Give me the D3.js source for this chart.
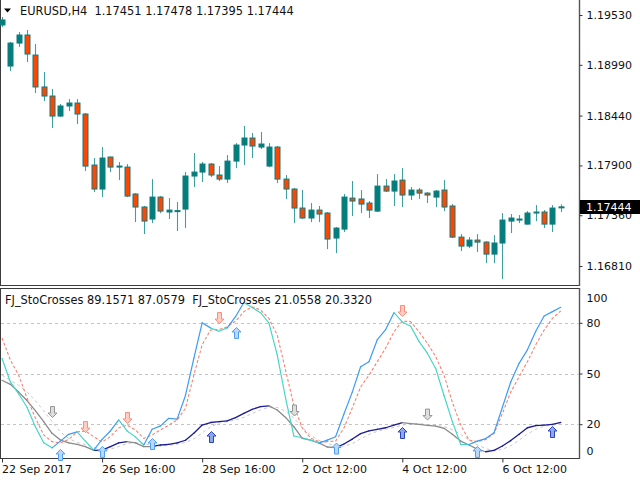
<!DOCTYPE html>
<html><head><meta charset="utf-8">
<script src="https://cdn.jsdelivr.net/npm/d3@7"></script>
<style>body{margin:0;background:#fff}svg{display:block}text{font-family:"DejaVu Sans",sans-serif}</style>
</head><body>
<script>
// ---------- DATA ----------
const symbolTitle = "EURUSD,H4";
const ohlcTitle = ["1.17451","1.17478","1.17395","1.17444"];
const indTitle = "FJ_StoCrosses 89.1571 87.0579  FJ_StoCrosses 21.0558 20.3320";
const lastPrice = 1.17444;

const open = [1.19422,1.18977,1.19226,1.19313,1.19096,1.18750,1.18652,1.18435,1.18544,1.18576,
1.18457,1.17904,1.17644,1.17991,1.17882,1.17882,1.17590,1.17449,1.17319,1.17557,
1.17395,1.17400,1.17427,1.17785,1.17828,1.17915,1.17796,1.17752,1.17947,1.18121,
1.18197,1.18099,1.17893,1.18099,1.17752,1.17644,1.17438,1.17330,1.17416,1.17384,
1.17113,1.17210,1.17546,1.17536,1.17492,1.17405,1.17676,1.17622,1.17741,1.17579,
1.17633,1.17600,1.17557,1.17633,1.17460,1.17123,1.17026,1.17091,1.17069,1.16939,
1.17059,1.17297,1.17308,1.17264,1.17384,1.17395,1.17264,1.17451];
const high = [1.19508,1.19237,1.19346,1.19367,1.19216,1.18912,1.18728,1.18565,1.18619,1.18619,
1.18468,1.17980,1.18099,1.17995,1.17937,1.17915,1.17600,1.17460,1.17752,1.17568,
1.17546,1.17503,1.17828,1.18034,1.17937,1.17926,1.17893,1.18012,1.18142,1.18327,
1.18251,1.18262,1.18142,1.18110,1.17796,1.17655,1.17633,1.17492,1.17460,1.17395,
1.17232,1.17590,1.17731,1.17633,1.17514,1.17806,1.17752,1.17806,1.17871,1.17666,
1.17655,1.17611,1.17633,1.17741,1.17481,1.17156,1.17123,1.17156,1.17080,1.17145,
1.17384,1.17373,1.17362,1.17405,1.17470,1.17416,1.17470,1.17478];
const low = [1.19400,1.18923,1.19183,1.19021,1.18685,1.18598,1.18305,1.18424,1.18489,1.18348,
1.17839,1.17611,1.17557,1.17828,1.17741,1.17557,1.17286,1.17156,1.17275,1.17384,
1.17319,1.17189,1.17221,1.17666,1.17720,1.17774,1.17731,1.17709,1.17871,1.17904,
1.17980,1.18077,1.17880,1.17709,1.17536,1.17275,1.17320,1.17286,1.17286,1.16993,
1.16950,1.17178,1.17351,1.17384,1.17330,1.17395,1.17611,1.17460,1.17449,1.17525,
1.17536,1.17492,1.17449,1.17405,1.17113,1.16972,1.17004,1.16961,1.16842,1.16842,
1.16668,1.17167,1.17275,1.17260,1.17297,1.17221,1.17178,1.17395];
const close = [1.19476,1.19226,1.19313,1.19107,1.18750,1.18652,1.18435,1.18544,1.18576,1.18457,
1.17893,1.17644,1.17980,1.17882,1.17893,1.17568,1.17449,1.17297,1.17557,1.17405,
1.17416,1.17410,1.17785,1.17828,1.17915,1.17796,1.17752,1.17947,1.18121,1.18197,
1.18110,1.18132,1.18099,1.17752,1.17644,1.17438,1.17330,1.17416,1.17373,1.17102,
1.17221,1.17557,1.17514,1.17481,1.17416,1.17676,1.17622,1.17731,1.17579,1.17633,
1.17600,1.17579,1.17622,1.17449,1.17123,1.17026,1.17091,1.17069,1.16939,1.17059,
1.17308,1.17330,1.17319,1.17384,1.17395,1.17264,1.17438,1.17444];

// fast stochastic (main + signal)
const stoFast = [59,45,38,30,18.5,9,6,10,14,15.5,10,4.7,11,16,22.5,16,12.5,7.7,17,19,
23.5,23,37,59,80,77,75,77,83.6,92,89,86,80,61,35.5,13,12,10.6,8.9,10.6,
12.6,26,39,54,57,70,76,86,80.5,78,69,62,53,37,21.5,8,8,10,11.5,15,
30,45,56,64,75,84,86.6,89.16];
const stoFastSig = [71,58,49,35.5,23.7,13.6,9.7,8.9,11,15.4,16,12.6,9.5,12.6,17.8,19.5,16.6,11.6,13.6,16.6,
19.5,22.5,29.4,49,67,75.7,76,77.5,81,86.6,89.5,87.6,82.6,72.8,52,31,17.8,11.8,9.7,9.7,
10,17.8,29.6,42,49,57,65,74.7,81,80.7,74.7,67.9,60,49,33,19.5,10.6,9.7,11,14.5,
26.4,39,48,57,67,75.7,82.6,87.06];
// slow stochastic (main + signal)
const stoSlow = [46,43.6,39,34,28,21.5,14.6,10.6,9,8.1,6.7,4.5,4.7,6.7,9,9.7,9,6.7,6.7,7.7,
8.1,8.9,10.5,14.6,19.5,21,21.5,22,23.9,26.4,28.8,30.4,30.8,28.4,24,18.5,11.6,10.6,8.9,6.5,
6.1,8.3,11.2,14.4,16,17,17.9,19.5,20.9,20.3,19.9,19.3,18.9,17.6,14,10,7.7,5.3,3.7,4.5,
7.1,10.3,14,17.9,19.1,19.5,19.9,21.06];
const stoSlowSig = [49,46,43,39,34,28,21.5,15.5,11.5,9.2,8,6.5,4.4,5.3,6.8,8.5,9.3,8.5,7.5,7,
7.5,8.2,9.2,11.3,14.8,18.4,20.7,21.5,22.5,24.1,26.4,28.5,30,29.9,27.7,23.6,18,13.6,10.4,8.7,
7.2,7,8.5,11.3,13.9,15.8,17,18.1,19.4,20.5,20.4,19.8,19.4,18.6,16.8,13.9,10.6,7.7,5.6,4.3,
5.1,7.3,10.5,14.1,17,18.8,19.5,20.33];

// arrow buffers (bar index, value)
const upFastBars = [7,12,18,28,40,57],  upFastVals = [1.8,3.6,8.3,74,5.6,3.6];
const upSlowBars = [25,48,66],          upSlowVals = [12.4,14.8,15.4];
const dnFastBars = [10,15,26,48],       dnFastVals = [18.3,23.7,82.8,87];
const dnSlowBars = [6,35,51],           dnSlowVals = [27.2,28.1,25.7];

const priceTicks = [1.1953,1.1899,1.1844,1.1790,1.1736,1.1681];
const stoTicks = [100,80,50,20,0];
const stoLevels = [80,50,20];
const timeTickBars = [0,12,24,36,48,60];
const timeTickLabels = ["22 Sep 2017","26 Sep 16:00","28 Sep 16:00","2 Oct 12:00","4 Oct 12:00","6 Oct 12:00"];

// ---------- DRAW ----------
const W = 640, H = 480, axisX = 579.5;
const svg = d3.select("body").append("svg").attr("width", W).attr("height", H);

const x = d3.scaleLinear().domain([0, 67]).range([2, 2 + 67 * 8.34]);
const y = d3.scaleLinear().domain([1.1681, 1.1953]).range([266, 15]);
const ys = d3.scaleLinear().domain([0, 100]).range([458, 289]);

const idx = d3.range(open.length);

// frames
const frame = svg.append("g").attr("stroke", "#3c3c3c").attr("stroke-width", 1);
frame.append("line").attr("x1", 0.5).attr("x2", 0.5).attr("y1", 0).attr("y2", 286);
frame.append("line").attr("x1", 0.5).attr("x2", 0.5).attr("y1", 288).attr("y2", 459);
frame.append("line").attr("x1", 0).attr("x2", axisX).attr("y1", 285.5).attr("y2", 285.5);
frame.append("line").attr("x1", 0).attr("x2", axisX).attr("y1", 288.5).attr("y2", 288.5);
frame.append("line").attr("x1", 0).attr("x2", axisX).attr("y1", 458.5).attr("y2", 458.5);
frame.append("line").attr("x1", axisX).attr("x2", axisX).attr("y1", 0).attr("y2", 286).attr("stroke-width", 1.4).attr("stroke", "#555");
frame.append("line").attr("x1", axisX).attr("x2", axisX).attr("y1", 288).attr("y2", 459).attr("stroke-width", 1.4).attr("stroke", "#555");

// price axis
const pAxis = svg.append("g").attr("transform", `translate(${axisX},0)`)
  .call(d3.axisRight(y).tickValues(priceTicks).tickFormat(d3.format(".5f")).tickSize(3).tickPadding(4));
pAxis.select(".domain").remove();
pAxis.selectAll("line").attr("stroke", "#333");
pAxis.selectAll("text").attr("font-size", 11).attr("fill", "#111").attr("font-family", "DejaVu Sans");

// candles
const cg = svg.append("g");
cg.selectAll("line.wick").data(idx).join("line").attr("class", "wick")
  .attr("x1", i => Math.round(x(i)) + 0.5).attr("x2", i => Math.round(x(i)) + 0.5)
  .attr("y1", i => y(high[i])).attr("y2", i => y(low[i]))
  .attr("stroke", "#3f9f9f").attr("stroke-width", 1.1);
cg.selectAll("rect.body").data(idx).join("rect").attr("class", "body")
  .attr("x", i => Math.round(x(i)) - 2)
  .attr("width", 5)
  .attr("y", i => y(Math.max(open[i], close[i])))
  .attr("height", i => Math.max(1, Math.abs(y(open[i]) - y(close[i]))))
  .attr("fill", i => close[i] >= open[i] ? "#007f7f" : "#ff4500")
  .attr("stroke", "#137a7a").attr("stroke-width", 1);

// last price label box
svg.append("rect").attr("x", 580).attr("y", y(lastPrice) - 7.5).attr("width", 60).attr("height", 14).attr("fill", "#000");
svg.append("text").attr("x", 586).attr("y", y(lastPrice) + 4).attr("font-size", 11).attr("fill", "#fff").text(lastPrice.toFixed(5));

// title
svg.append("path").attr("d", "M4,8.5 L11,8.5 L7.5,12.5 Z").attr("fill", "#000");
svg.append("text").attr("x", 20).attr("y", 14.5).attr("font-size", 11.4).attr("fill", "#111")
  .attr("xml:space", "preserve").text(symbolTitle + "  " + ohlcTitle.join(" "));

// ---------- indicator ----------
svg.append("g").selectAll("line").data(stoLevels).join("line")
  .attr("x1", 1).attr("x2", axisX - 1).attr("y1", d => Math.round(ys(d)) + 0.5).attr("y2", d => Math.round(ys(d)) + 0.5)
  .attr("stroke", "#c4c4c4").attr("stroke-dasharray", "3,3");

const sAxis = svg.append("g").attr("transform", `translate(${axisX},0)`)
  .call(d3.axisRight(ys).tickValues(stoTicks).tickSize(3).tickPadding(4));
sAxis.select(".domain").remove();
sAxis.selectAll("line").attr("stroke", d => (d === 0 || d === 100) ? "none" : "#333");
sAxis.selectAll("text").attr("font-size", 11).attr("fill", "#111").attr("font-family", "DejaVu Sans")
  .attr("dy", d => d === 100 ? "1.15em" : d === 0 ? "-0.35em" : "0.32em");

const line = d3.line().x(d => x(d[0])).y(d => ys(d[1]));
const ig = svg.append("g");

// slow signal
ig.append("path").attr("d", line(idx.map(i => [i, stoSlowSig[i]])))
  .attr("fill", "none").attr("stroke", "#c8c8c8").attr("stroke-width", 1).attr("stroke-dasharray", "3,3");
// slow main (coloured segments)
const seg = (arr, sig) => idx.slice(1).map(i => ({a: [i - 1, arr[i - 1]], b: [i, arr[i]], up: arr[i] >= sig[i]}));
ig.selectAll("path.slow").data(seg(stoSlow, stoSlowSig)).join("path").attr("class", "slow")
  .attr("d", d => line([d.a, d.b])).attr("fill", "none")
  .attr("stroke", d => d.up ? "#1c1c96" : "#8a8a8a").attr("stroke-width", 1.3).attr("stroke-linecap", "round");
// fast signal
ig.append("path").attr("d", line(idx.map(i => [i, stoFastSig[i]])))
  .attr("fill", "none").attr("stroke", "#fa8072").attr("stroke-width", 1.1).attr("stroke-dasharray", "3,2");
// fast main
ig.selectAll("path.fast").data(seg(stoFast, stoFastSig)).join("path").attr("class", "fast")
  .attr("d", d => line([d.a, d.b])).attr("fill", "none")
  .attr("stroke", d => d.up ? "#3d9bf5" : "#45d6c8").attr("stroke-width", 1.2).attr("stroke-linecap", "round");

// arrows
const upPath = "M0,-5.5 L4.5,-1 L2,-1 L2,5.5 L-2,5.5 L-2,-1 L-4.5,-1 Z";
const dnPath = "M0,5.5 L4.5,1 L2,1 L2,-5.5 L-2,-5.5 L-2,1 L-4.5,1 Z";
function arrows(bars, vals, path, fill, stroke) {
  ig.append("g").selectAll("path").data(bars.map((b, k) => [b, vals[k]])).join("path")
    .attr("transform", d => `translate(${Math.round(x(d[0])) + 0.5},${ys(d[1])})`)
    .attr("d", path).attr("fill", fill).attr("stroke", stroke).attr("stroke-width", 1);
}
arrows(upFastBars, upFastVals, upPath, "#b9d8fb", "#4f9ef2");
arrows(upSlowBars, upSlowVals, upPath, "#8ea6ee", "#2b45b5");
arrows(dnFastBars, dnFastVals, dnPath, "#ffcfc4", "#fb8e7e");
arrows(dnSlowBars, dnSlowVals, dnPath, "#dedede", "#949494");

svg.append("text").attr("x", 5).attr("y", 304).attr("font-size", 11.4).attr("fill", "#111")
  .attr("xml:space", "preserve").text(indTitle);

// time axis
const tAxis = svg.append("g").attr("transform", "translate(0,458.5)")
  .call(d3.axisBottom(x).tickValues(timeTickBars).tickFormat((d, k) => timeTickLabels[k]).tickSize(4).tickPadding(3));
tAxis.select(".domain").remove();
tAxis.selectAll("line").attr("stroke", "#333");
tAxis.selectAll("text").attr("font-size", 11).attr("fill", "#111").attr("font-family", "DejaVu Sans")
  .attr("text-anchor", "start").attr("dx", -0.5);
</script>
</body></html>
